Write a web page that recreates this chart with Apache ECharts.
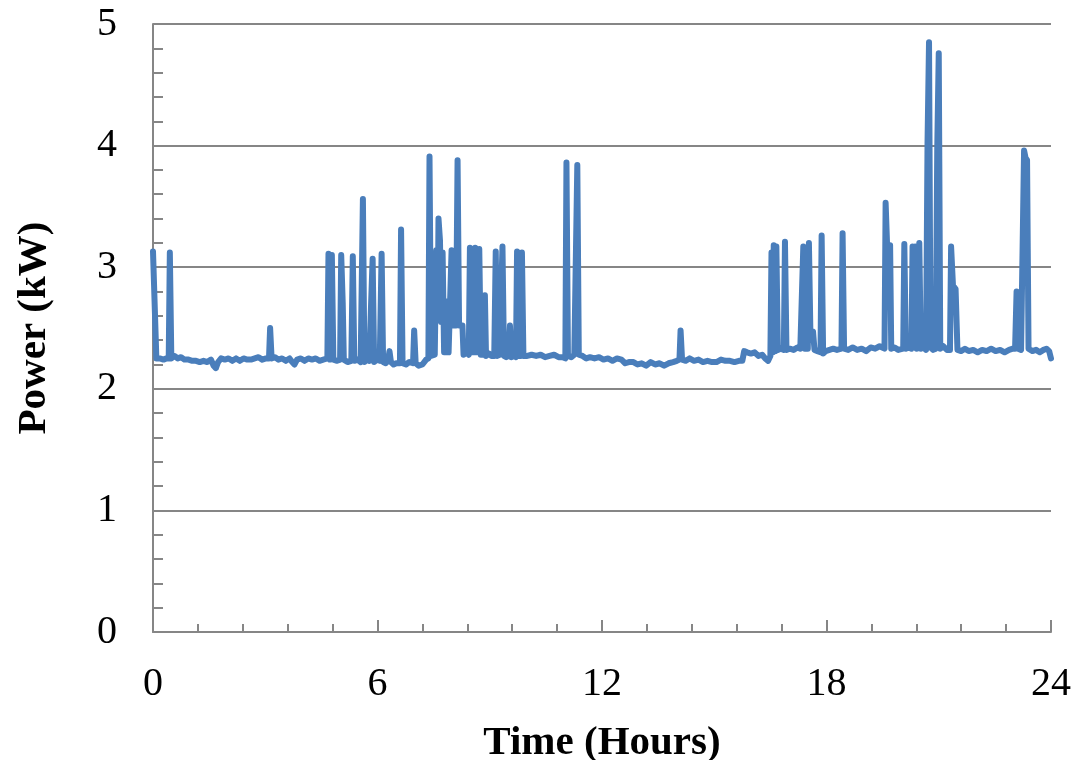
<!DOCTYPE html>
<html>
<head>
<meta charset="utf-8">
<title>Power (kW) over 24 hours</title>
<script src="https://cdn.jsdelivr.net/npm/echarts@6/dist/echarts.min.js"></script>
<style>
  html, body { margin: 0; padding: 0; background: #ffffff; }
  #chart { width: 1083px; height: 760px; }
</style>
</head>
<body>
<div id="chart"></div>
<script>
// Metered power draw, [hour, kW] readings split by part of the day.
const nightReadings = [
  [0.00, 3.13], [0.05, 3.12], [0.09, 2.25], [0.18, 2.25], [0.28, 2.24], [0.36, 2.25], [0.42, 2.25],
  [0.45, 3.12], [0.49, 2.25], [0.58, 2.27], [0.66, 2.25], [0.75, 2.26], [0.84, 2.24], [0.95, 2.24],
  [1.05, 2.23], [1.15, 2.23], [1.25, 2.22], [1.35, 2.23], [1.45, 2.22], [1.55, 2.24], [1.62, 2.19],
  [1.68, 2.17], [1.74, 2.22], [1.82, 2.25], [1.92, 2.24], [2.02, 2.25], [2.12, 2.23], [2.22, 2.25],
  [2.32, 2.23], [2.42, 2.25], [2.52, 2.24], [2.62, 2.24], [2.72, 2.25], [2.82, 2.26], [2.92, 2.24],
  [3.02, 2.25], [3.10, 2.25], [3.13, 2.50], [3.17, 2.25], [3.26, 2.26], [3.35, 2.24], [3.45, 2.25],
  [3.55, 2.23], [3.65, 2.25], [3.72, 2.22], [3.78, 2.20], [3.85, 2.24], [3.95, 2.25], [4.05, 2.23],
  [4.15, 2.25], [4.25, 2.24], [4.35, 2.25], [4.45, 2.23], [4.55, 2.24], [4.66, 2.25]
];

const morningReadings = [
  [4.69, 3.11], [4.73, 2.24], [4.78, 3.10], [4.82, 2.24], [4.92, 2.23], [5.00, 2.24], [5.03, 3.10],
  [5.07, 2.71], [5.10, 2.24], [5.20, 2.22], [5.30, 2.23], [5.34, 3.09], [5.38, 2.23], [5.47, 2.24],
  [5.55, 2.22], [5.61, 3.56], [5.65, 2.22], [5.72, 2.24], [5.78, 2.23], [5.83, 2.71], [5.87, 3.07],
  [5.91, 2.22], [5.98, 2.24], [6.06, 2.23], [6.11, 3.11], [6.15, 2.22], [6.22, 2.21], [6.28, 2.23],
  [6.32, 2.31], [6.36, 2.22], [6.43, 2.20], [6.50, 2.21], [6.60, 2.21], [6.63, 3.31], [6.67, 2.21],
  [6.76, 2.20], [6.85, 2.22], [6.95, 2.21], [6.98, 2.48], [7.02, 2.21], [7.10, 2.19], [7.20, 2.20],
  [7.30, 2.24], [7.36, 2.25], [7.39, 3.91], [7.43, 2.27], [7.53, 2.28], [7.57, 3.14], [7.61, 2.60],
  [7.63, 3.40], [7.67, 3.22], [7.70, 2.55], [7.74, 3.12], [7.78, 2.30], [7.84, 2.30], [7.87, 2.72],
  [7.90, 2.30], [7.95, 2.30], [7.98, 3.14], [8.02, 2.52], [8.10, 2.52], [8.14, 3.88], [8.18, 2.52],
  [8.27, 2.52], [8.30, 2.28], [8.37, 2.30], [8.44, 2.28], [8.47, 3.16], [8.51, 2.30], [8.58, 2.30],
  [8.61, 3.16], [8.65, 2.30], [8.69, 2.30], [8.72, 3.15], [8.76, 2.28], [8.84, 2.28], [8.87, 2.77],
  [8.90, 2.27], [8.98, 2.29], [9.05, 2.27], [9.12, 2.27], [9.16, 3.13], [9.20, 2.27], [9.26, 2.28],
  [9.31, 2.27], [9.34, 3.17], [9.38, 2.27], [9.44, 2.26], [9.50, 2.27], [9.54, 2.52], [9.58, 2.26],
  [9.64, 2.27], [9.70, 2.26], [9.73, 3.13], [9.77, 2.27], [9.83, 2.27], [9.86, 3.12], [9.90, 2.27]
];

const middayReadings = [
  [10.00, 2.27], [10.12, 2.28], [10.24, 2.27], [10.36, 2.28], [10.48, 2.26], [10.60, 2.27],
  [10.72, 2.28], [10.84, 2.26], [10.95, 2.26], [11.02, 2.25], [11.05, 3.86], [11.09, 2.27],
  [11.18, 2.26], [11.26, 2.28], [11.30, 2.27], [11.34, 3.84], [11.38, 2.28], [11.48, 2.27],
  [11.58, 2.25], [11.68, 2.26], [11.80, 2.25], [11.92, 2.26], [12.04, 2.24], [12.16, 2.25],
  [12.28, 2.23], [12.40, 2.25], [12.52, 2.24], [12.62, 2.21], [12.72, 2.22], [12.84, 2.22],
  [12.95, 2.20], [13.06, 2.21], [13.18, 2.19], [13.30, 2.22], [13.42, 2.20], [13.54, 2.21],
  [13.66, 2.19], [13.78, 2.21], [13.90, 2.22], [14.00, 2.23], [14.07, 2.24], [14.10, 2.48],
  [14.14, 2.24], [14.24, 2.23], [14.34, 2.25], [14.46, 2.23], [14.58, 2.24], [14.70, 2.22],
  [14.82, 2.23], [14.94, 2.22], [15.06, 2.22], [15.18, 2.24], [15.30, 2.23], [15.42, 2.23],
  [15.54, 2.22], [15.66, 2.23], [15.75, 2.23], [15.80, 2.31], [15.88, 2.30], [15.98, 2.29],
  [16.08, 2.30], [16.18, 2.27], [16.28, 2.28], [16.36, 2.25], [16.44, 2.23], [16.50, 2.27]
];

const eveningReadings = [
  [16.53, 3.12], [16.57, 2.30], [16.59, 3.18], [16.63, 2.31], [16.66, 3.17], [16.70, 2.32],
  [16.78, 2.33], [16.86, 2.32], [16.89, 3.21], [16.93, 2.32], [17.02, 2.33], [17.12, 2.32],
  [17.22, 2.34], [17.30, 2.33], [17.35, 2.33], [17.38, 3.17], [17.42, 2.33], [17.50, 2.33],
  [17.53, 3.20], [17.57, 2.45], [17.64, 2.47], [17.68, 2.32], [17.76, 2.31], [17.84, 2.30],
  [17.87, 3.26], [17.91, 2.29], [17.98, 2.31], [18.08, 2.32], [18.18, 2.33], [18.28, 2.32],
  [18.40, 2.33], [18.43, 3.28], [18.47, 2.33], [18.58, 2.32], [18.70, 2.34], [18.82, 2.32],
  [18.94, 2.33], [19.06, 2.31], [19.18, 2.34], [19.30, 2.33], [19.42, 2.35], [19.55, 2.33],
  [19.58, 3.53], [19.62, 3.18], [19.70, 3.18], [19.73, 2.33], [19.82, 2.34], [19.92, 2.32],
  [20.05, 2.33], [20.08, 3.19], [20.12, 2.33], [20.20, 2.34], [20.27, 2.33], [20.30, 3.17],
  [20.34, 2.35], [20.37, 3.17], [20.41, 2.33], [20.45, 2.33], [20.48, 3.20], [20.52, 2.33],
  [20.60, 2.34], [20.66, 2.32], [20.70, 4.02], [20.74, 4.85], [20.78, 2.34], [20.85, 2.32],
  [20.92, 2.33], [20.96, 3.98], [21.00, 4.76], [21.04, 2.33], [21.12, 2.35], [21.22, 2.32],
  [21.30, 2.32], [21.33, 3.17], [21.38, 2.85], [21.45, 2.82], [21.50, 2.32], [21.60, 2.31],
  [21.70, 2.33], [21.80, 2.31], [21.92, 2.32], [22.04, 2.30], [22.16, 2.32], [22.28, 2.31],
  [22.40, 2.33], [22.52, 2.31], [22.64, 2.32], [22.76, 2.30], [22.88, 2.32], [22.98, 2.33],
  [23.04, 2.33], [23.08, 2.80], [23.12, 2.33], [23.20, 2.32], [23.25, 2.33], [23.28, 3.96],
  [23.32, 3.90], [23.36, 3.88], [23.40, 2.33], [23.50, 2.31], [23.60, 2.32], [23.70, 2.30],
  [23.80, 2.32], [23.88, 2.33], [23.95, 2.31], [24.00, 2.25]
];

const hourTicks = [0, 6, 12, 18, 24];
const powerTicks = [0, 1, 2, 3, 4, 5];

const readings = nightReadings.concat(morningReadings, middayReadings, eveningReadings);

const axisGrey = '#868686';
const serif = '"Liberation Serif", "Times New Roman", serif';

const chart = echarts.init(document.getElementById('chart'), null, { renderer: 'canvas' });

chart.setOption({
  animation: false,
  backgroundColor: '#ffffff',
  grid: { left: 153, right: 32, top: 24, bottom: 128, containLabel: false, outerBoundsMode: 'none' },
  xAxis: {
    type: 'value',
    min: hourTicks[0],
    max: hourTicks[hourTicks.length - 1],
    interval: hourTicks[1] - hourTicks[0],
    name: 'Time (Hours)',
    nameLocation: 'middle',
    nameGap: 91,
    nameTextStyle: { fontFamily: serif, fontSize: 41, fontWeight: 'bold', color: '#000' },
    axisLine: { show: true, lineStyle: { color: axisGrey, width: 2 } },
    axisTick: { show: true, inside: true, length: 12, lineStyle: { color: axisGrey, width: 2 } },
    minorTick: { show: true, splitNumber: 5, length: 8, lineStyle: { color: axisGrey, width: 2 } },
    axisLabel: { fontFamily: serif, fontSize: 40, color: '#000', margin: 32 },
    splitLine: { show: false }
  },
  yAxis: {
    type: 'value',
    min: powerTicks[0],
    max: powerTicks[powerTicks.length - 1],
    interval: powerTicks[1] - powerTicks[0],
    name: 'Power (kW)',
    nameLocation: 'middle',
    nameGap: 98,
    nameRotate: 90,
    nameTextStyle: { fontFamily: serif, fontSize: 41, fontWeight: 'bold', color: '#000' },
    axisLine: { show: true, lineStyle: { color: axisGrey, width: 2 } },
    axisTick: { show: true, inside: true, length: 10, lineStyle: { color: axisGrey, width: 2 } },
    minorTick: { show: true, splitNumber: 5, length: 10, lineStyle: { color: axisGrey, width: 2 } },
    axisLabel: { fontFamily: serif, fontSize: 40, color: '#000', margin: 36 },
    splitLine: { show: true, lineStyle: { color: axisGrey, width: 2 } }
  },
  series: [{
    type: 'line',
    data: readings,
    showSymbol: false,
    symbol: 'none',
    lineStyle: { color: '#4a7ebb', width: 6, cap: 'round', join: 'round' },
    itemStyle: { color: '#4a7ebb' },
    z: 3
  }]
});
</script>
</body>
</html>
